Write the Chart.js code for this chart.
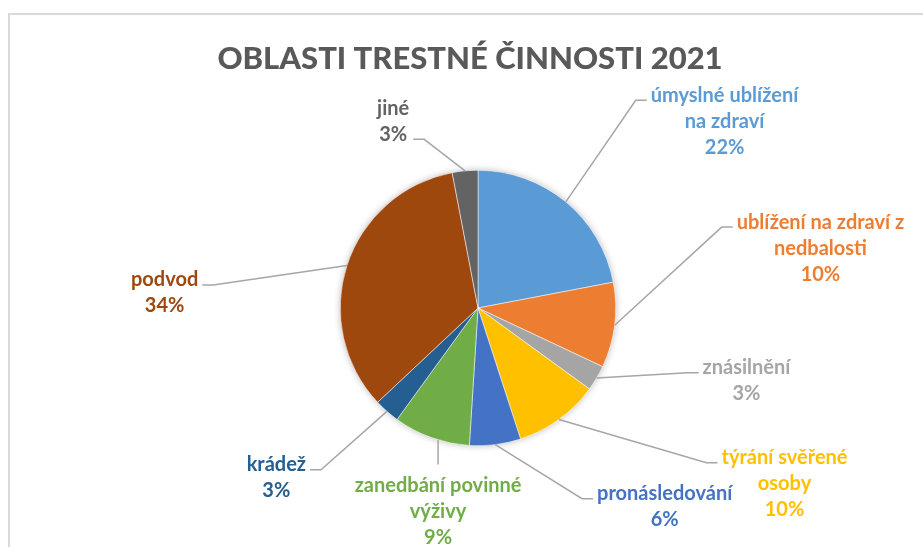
<!DOCTYPE html>
<html lang="cs">
<head>
<meta charset="utf-8">
<title>Oblasti trestné činnosti 2021</title>
<script src="https://cdn.jsdelivr.net/npm/chart.js@4.4.1/dist/chart.umd.min.js"></script>
<style>
  html, body { margin: 0; padding: 0; background: #fff; overflow: hidden; }
  #chartBox { position: absolute; left: 8px; top: 13px; width: 940px; height: 560px; border: 2px solid #d9d9d9; }
</style>
</head>
<body>
<div id="chartBox"><canvas id="myChart" width="940" height="560"></canvas></div>
<script>
'use strict';

//////////////// the data ///////////////////

let titleText = 'OBLASTI TRESTNÉ ČINNOSTI 2021';

let categories = [
  ['úmyslné ublížení', 'na zdraví'],
  ['ublížení na zdraví z', 'nedbalosti'],
  ['znásilnění'],
  ['týrání svěřené', 'osoby'],
  ['pronásledování'],
  ['zanedbání povinné', 'výživy'],
  ['krádež'],
  ['podvod'],
  ['jiné']
];

let percents = [22, 10, 3, 10, 6, 9, 3, 34, 3];

let sliceColors = ['#5b9bd5', '#ed7d31', '#a5a5a5', '#ffc000', '#4472c4', '#70ad47', '#255e91', '#9e480e', '#636363'];

//////////////// where each label sits (in pie radius units from the centre) ///////////////////

let labelSpots = [
  { dx: 1.79, dy: -1.355, side: 'left', row: 'first' },
  { dx: 2.486, dy: -0.435, side: 'left', row: 'first' },
  { dx: 1.949, dy: 0.529, side: 'left', row: 'first' },
  { dx: 2.225, dy: 1.275, side: 'left', row: 'first' },
  { dx: 1.355, dy: 1.442, side: 'left', row: 'first' },
  { dx: -0.29, dy: 1.478, side: 'top', row: 'first' },
  { dx: -1.464, dy: 1.232, side: 'right', row: 'first' },
  { dx: -2.275, dy: -0.109, side: 'right', row: 'first' },
  { dx: -0.616, dy: -1.355, side: 'right', row: 'last' }
];

const fontName = 'Lato, "Open Sans", sans-serif';

//////////////// plugin : shadow, title, labels with leader lines ///////////////////

const pieLabels = {
  id: 'pieLabels',
  beforeDatasetsDraw(chart) {
    let ctx = chart.ctx;
    let arc = chart.getDatasetMeta(0).data[0];
    let p = arc.getProps(['x', 'y', 'outerRadius'], true);
    ctx.save();
    ctx.shadowColor = 'rgba(0, 0, 0, 0.28)';
    ctx.shadowBlur = 7;
    ctx.fillStyle = '#ffffff';
    ctx.beginPath();
    ctx.arc(p.x, p.y, p.outerRadius, 0, Math.PI * 2);
    ctx.fill();
    ctx.restore();
  },
  afterDatasetsDraw(chart) {
    let ctx = chart.ctx;
    let meta = chart.getDatasetMeta(0);
    let data = chart.data.datasets[0].data;
    let total = data.reduce((a, b) => a + b, 0);
    let lh = 26;

    ctx.save();
    // title
    ctx.font = '900 31px ' + fontName;
    ctx.fillStyle = '#595959';
    ctx.textAlign = 'center';
    ctx.textBaseline = 'alphabetic';
    ctx.fillText(titleText, 460, 54);

    ctx.font = 'bold 20px ' + fontName;
    ctx.textBaseline = 'middle';

    for (let i = 0; i < meta.data.length; i++) {
      let p = meta.data[i].getProps(['x', 'y', 'startAngle', 'endAngle', 'outerRadius'], true);
      let mid = (p.startAngle + p.endAngle) / 2;
      let spot = labelSpots[i];
      let lines = [].concat(chart.data.labels[i], Math.round(data[i] / total * 100) + '%');
      let w = 0;
      for (let k = 0; k < lines.length; k++) {
        w = Math.max(w, ctx.measureText(lines[k]).width);
      }
      let cx = p.x + spot.dx * p.outerRadius;
      let cy = p.y + spot.dy * p.outerRadius;
      let firstY = cy - (lines.length - 1) * lh / 2;
      let lastY = firstY + (lines.length - 1) * lh;

      // leader line
      ctx.strokeStyle = '#a6a6a6';
      ctx.lineWidth = 1.5;
      ctx.beginPath();
      if (spot.side === 'top') {
        let off = cx - p.x;
        let edgeY = p.y + Math.sqrt(p.outerRadius * p.outerRadius - off * off);
        ctx.moveTo(cx, edgeY);
        ctx.lineTo(cx, firstY - 21);
      } else {
        let ax = p.x + Math.cos(mid) * p.outerRadius;
        let ay = p.y + Math.sin(mid) * p.outerRadius;
        let rowY = (spot.row === 'last' ? lastY : firstY) + 5;
        let endX = spot.side === 'left' ? cx - w / 2 - 4 : cx + w / 2 + 4;
        let bendX = spot.side === 'left' ? endX - 11 : endX + 11;
        ctx.moveTo(ax, ay);
        ctx.lineTo(bendX, rowY);
        ctx.lineTo(endX, rowY);
      }
      ctx.stroke();

      // text
      ctx.fillStyle = sliceColors[i];
      for (let k = 0; k < lines.length; k++) {
        ctx.fillText(lines[k], cx, firstY + k * lh);
      }
    }
    ctx.restore();
  }
};

//////////////// the chart ///////////////////

let ctx = document.getElementById('myChart').getContext('2d');
let myChart = new Chart(ctx, {
  type: 'pie',
  data: {
    labels: categories,
    datasets: [{
      data: percents,
      backgroundColor: sliceColors,
      borderColor: '#ffffff',
      borderWidth: 0.5
    }]
  },
  options: {
    responsive: false,
    animation: false,
    layout: {
      padding: { left: 330, right: 334, top: 155, bottom: 129 }
    },
    plugins: {
      legend: { display: false },
      tooltip: { enabled: false },
      title: { display: false }
    }
  },
  plugins: [pieLabels]
});
</script>
</body>
</html>
